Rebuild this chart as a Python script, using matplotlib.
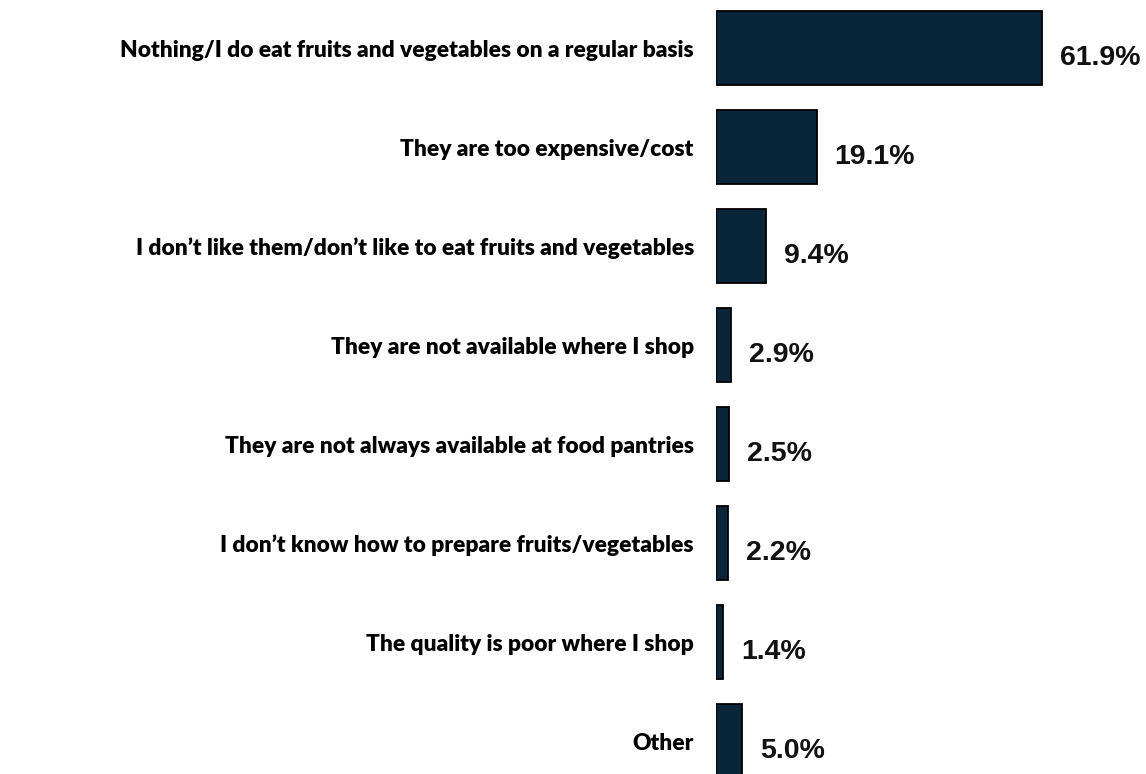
import matplotlib.pyplot as plt

# Reasons for not eating more fruits and vegetables (share of respondents, %)
categories = [
    "Nothing/I do eat fruits and vegetables on a regular basis",
    "They are too expensive/cost",
    "I don\u2019t like them/don\u2019t like to eat fruits and vegetables",
    "They are not available where I shop",
    "They are not always available at food pantries",
    "I don\u2019t know how to prepare fruits/vegetables",
    "The quality is poor where I shop",
    "Other",
]
values = [61.9, 19.1, 9.4, 2.9, 2.5, 2.2, 1.4, 5.0]

BAR_COLOR = "#082539"

fig = plt.figure(figsize=(11.46, 7.74), dpi=100)
ax = fig.add_axes([716 / 1146, 0, 1 - 716 / 1146, 1])

ypos = list(range(len(categories)))
ax.barh(ypos, values, height=0.74, color=BAR_COLOR, edgecolor="black", linewidth=1.3)

ax.set_xlim(0, 81.6)
ax.set_ylim(7.333, -0.485)

ax.set_yticks(ypos)
ax.set_yticklabels(categories, fontfamily="Lato", fontweight="heavy", fontsize=16.4)
ax.tick_params(axis="y", length=0, pad=16)
ax.set_xticks([])
for s in ax.spines.values():
    s.set_visible(False)

for y, v in zip(ypos, values):
    ax.annotate(f"{v:.1f}%", xy=(v, y), xytext=(13, -7), textcoords="offset points",
                ha="left", va="center", fontfamily="Liberation Sans",
                fontweight="bold", fontsize=20.5, color="#111111")

fig.savefig("out.png", dpi=100)
